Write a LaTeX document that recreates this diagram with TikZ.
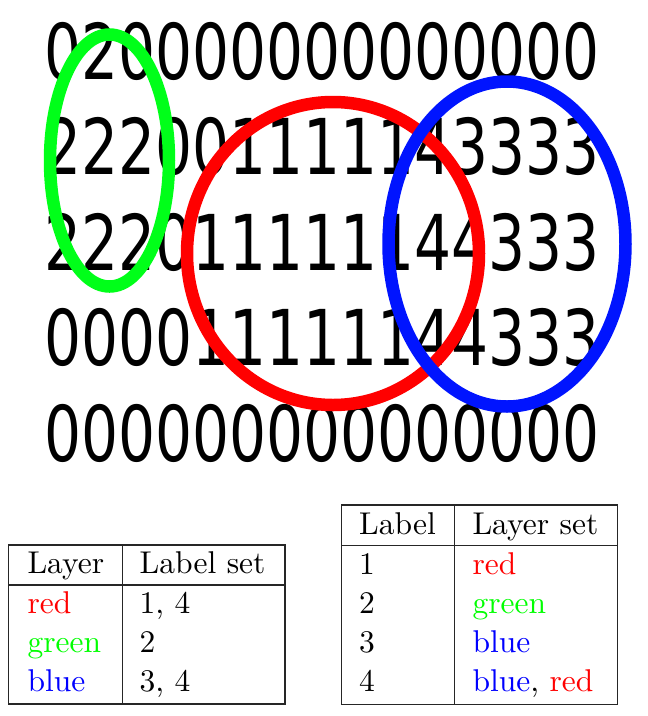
\documentclass[tikz,border=0pt]{standalone}
\usepackage{fontspec}
\usepackage{graphicx}
\newfontfamily\digfont{DejaVu Sans}
\newfontfamily\tabfont{lmroman10-regular.otf}
\definecolor{ringgreen}{RGB}{0,255,25}
\definecolor{ringred}{RGB}{255,0,0}
\definecolor{ringblue}{RGB}{0,20,255}
\definecolor{txtred}{RGB}{255,0,0}
\definecolor{txtgreen}{RGB}{0,255,0}
\definecolor{txtblue}{RGB}{0,0,255}
\newcommand{\digrow}[1]{\scalebox{0.7555}[1]{#1}}
\begin{document}
\begin{tikzpicture}[x=1pt,y=-1pt,
  digits/.style={anchor=base west,inner sep=0pt,font=\digfont\fontsize{77}{90}\selectfont},
  cell/.style={anchor=base west,inner sep=0pt,font=\tabfont\fontsize{31.5}{38}\selectfont},
  ring/.style={line width=12.5pt},
  rule/.style={line width=1.2pt,draw=black!85}]
\useasboundingbox (0,0) rectangle (648,716);
% digit grid
\node[digits] (r1) at (44.2,79)    {\digrow{020000000000000}};
\node[digits] (r2) at (44.2,174.5) {\digrow{222001111143333}};
\node[digits] (r3) at (44.2,270)   {\digrow{222011111144333}};
\node[digits] (r4) at (44.2,365.5) {\digrow{000011111144333}};
\node[digits] (r5) at (44.2,461)   {\digrow{000000000000000}};
% rings
\draw[ring,draw=ringgreen] (109.5,160.5) ellipse [x radius=59.5pt, y radius=126pt];
\draw[ring,draw=ringred] (333,253.5) ellipse [x radius=146pt, y radius=151.5pt];
\draw[ring,draw=ringblue] (507,244) ellipse [x radius=118.5pt, y radius=162.5pt];
% left table
\draw[rule] (8.3,545) rectangle (285,704);
\draw[rule] (8.3,585) -- (285,585);
\draw[rule] (122.3,545) -- (122.3,704);
\node[cell] (lh1) at (27.3,573) {Layer};
\node[cell] (lh2) at (139.5,573) {Label set};
\node[cell,text=txtred] (la1) at (27.3,613) {red};
\node[cell] (lb1) at (139.5,613) {1, 4};
\node[cell,text=txtgreen] (la2) at (27.3,652) {green};
\node[cell] (lb2) at (139.5,652) {2};
\node[cell,text=txtblue] (la3) at (27.3,691.5) {blue};
\node[cell] (lb3) at (139.5,691.5) {3, 4};
% right table
\draw[rule] (341.7,505) rectangle (617.3,704.3);
\draw[rule] (341.7,545.7) -- (617.3,545.7);
\draw[rule] (454.3,505) -- (454.3,704.3);
\node[cell] (rh1) at (359,534.3) {Label};
\node[cell] (rh2) at (472.3,534.3) {Layer set};
\node[cell] (ra1) at (359,574) {1};
\node[cell,text=txtred] (rb1) at (472.3,574) {red};
\node[cell] (ra2) at (359,613.5) {2};
\node[cell,text=txtgreen] (rb2) at (472.3,613.5) {green};
\node[cell] (ra3) at (359,652.5) {3};
\node[cell,text=txtblue] (rb3) at (472.3,652.5) {blue};
\node[cell] (ra4) at (359,691.7) {4};
\node[cell] (rb4) at (472.3,691.7) {\textcolor{txtblue}{blue}, \textcolor{txtred}{red}};
\end{tikzpicture}
\end{document}
